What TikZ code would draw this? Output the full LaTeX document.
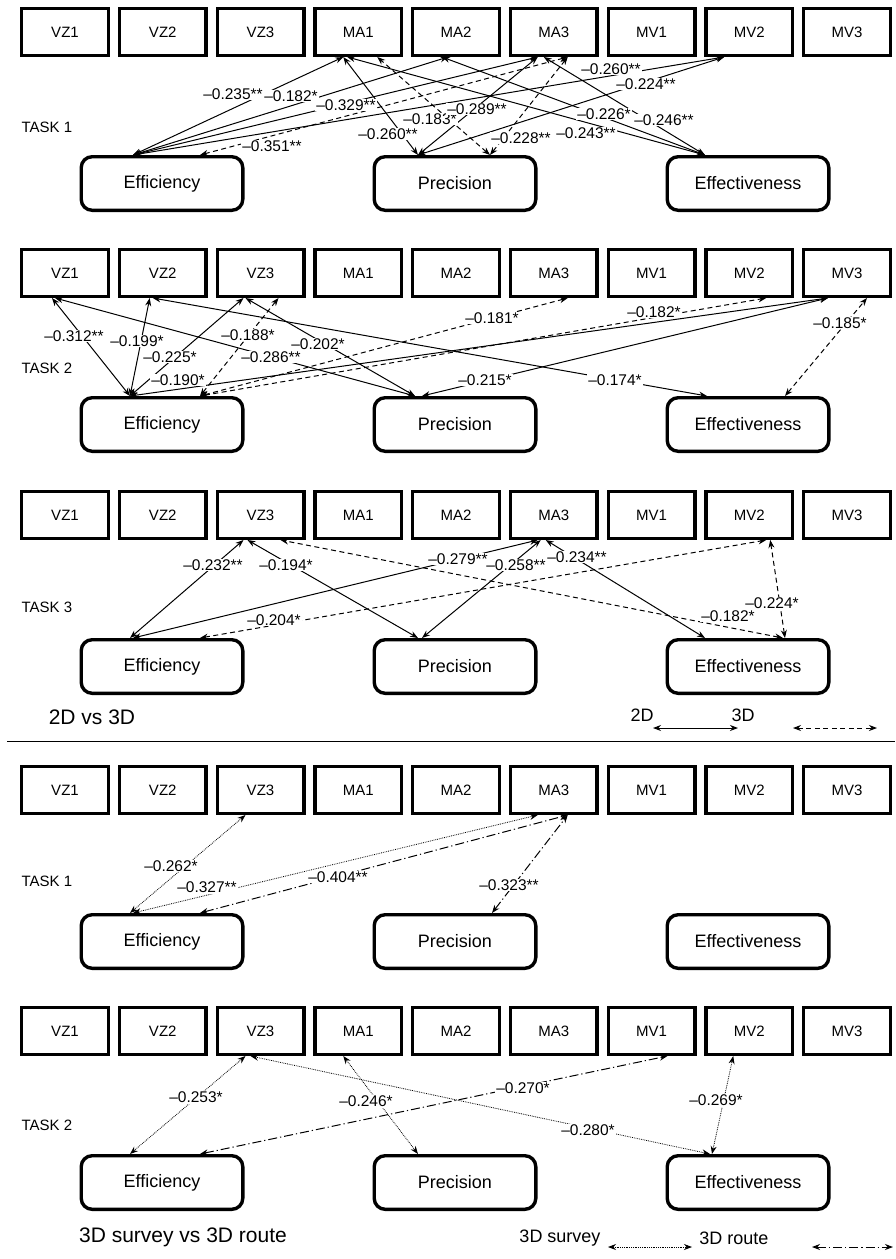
\documentclass[tikz,border=0pt]{standalone}
\usepackage{fontspec}
\setmainfont{Liberation Sans}
\usetikzlibrary{arrows.meta}

\begin{document}
\begin{tikzpicture}[x=1pt,y=-1pt,
  every node/.style={font=\fontsize{15}{18}\selectfont},
  var/.style={draw,line width=3.4pt,minimum width=86.6pt,minimum height=46.6pt,inner sep=0pt},
  outc/.style={draw,line width=3.4pt,rounded corners=11pt,minimum width=161.6pt,minimum height=53.6pt,font=\fontsize{18}{22}\selectfont},
  cor/.style={{Stealth[length=8pt,width=6pt]}-{Stealth[length=8pt,width=6pt]},line width=1pt},
  cord/.style={cor,dash pattern=on 5pt off 3.5pt},
  corp/.style={cor,line width=0.8pt,dash pattern=on 0.8pt off 1pt},
  corc/.style={cor,dash pattern=on 9pt off 3pt on 1.2pt off 3pt},
  coef/.style={fill=white,inner sep=1pt,font=\fontsize{15.5}{18}\selectfont},
  task/.style={anchor=west},
  ttl/.style={font=\fontsize{21}{25}\selectfont},
  key/.style={font=\fontsize{18}{22}\selectfont}]
\useasboundingbox (0,0) rectangle (895,1259);
% boxes of the five panels
\foreach \p/\t in {a/7,b/248,c/490,d/765,e/1006} {
  \foreach \n [count=\i] in {VZ1,VZ2,VZ3,MA1,MA2,MA3,MV1,MV2,MV3}
    \node[var] (\p\n) at ({65+97.75*(\i-1)},\t+25) {\n};
  \foreach \n/\x/\txt in {Eff/162/Efficiency,Prec/455/Precision,Effv/748/Effectiveness}
    \node[outc] (\p\n) at (\x,\t+176.5) {\txt};
}
% task names
\node[task] (ta) at (18,127) {TASK 1};
\node[task] (tb) at (18,368) {TASK 2};
\node[task] (tc) at (18,607) {TASK 3};
\node[task] (td) at (18,881) {TASK 1};
\node[task] (te) at (18,1125) {TASK 2};
% 2D vs 3D, task 1
\foreach \f/\u/\g/\v in {Eff/-29/MA1/-15,Eff/-29/MA2/-8,Eff/-29/MA3/-16,Eff/-29/MV2/-25,
    Prec/-37/MA1/-15,Prec/-37/MA3/-16,Prec/-37/MV2/-25,
    Effv/-43/MA1/-11,Effv/-43/MA2/-14,Effv/-43/MA3/-10}
  \draw[cor] ([xshift=\u*1pt]a\f.north) -- ([xshift=\v*1pt]a\g.south);
\foreach \f/\u/\g/\v in {Eff/38/MA3/14,Prec/35/MA1/19,Prec/35/MA3/14}
  \draw[cord] ([xshift=\u*1pt]a\f.north) -- ([xshift=\v*1pt]a\g.south);
% 2D vs 3D, task 2
\foreach \f/\u/\g/\v in {Eff/-32/VZ1/-13,Eff/-32/VZ2/-13,Eff/-32/VZ3/-17,Prec/-40/VZ3/-15,
    Prec/-40/VZ1/-10,Effv/-41/VZ2/-10,Eff/-32/MV3/-19,Prec/-33/MV3/-19}
  \draw[cor] ([xshift=\u*1pt]b\f.north) -- ([xshift=\v*1pt]b\g.south);
\foreach \f/\u/\g/\v in {Eff/38/VZ3/18,Eff/38/MA3/14,Eff/38/MV2/17,Effv/37/MV3/20}
  \draw[cord] ([xshift=\u*1pt]b\f.north) -- ([xshift=\v*1pt]b\g.south);
% 2D vs 3D, task 3
\foreach \f/\u/\g/\v in {Eff/-32/VZ3/-17,Prec/-37/VZ3/-13,Eff/-29/MA3/-16,Prec/-33/MA3/-13,Effv/-43/MA3/-8}
  \draw[cor] ([xshift=\u*1pt]c\f.north) -- ([xshift=\v*1pt]c\g.south);
\foreach \f/\u/\g/\v in {Effv/35/VZ3/20,Eff/38/MV2/17,Effv/37/MV2/21}
  \draw[cord] ([xshift=\u*1pt]c\f.north) -- ([xshift=\v*1pt]c\g.south);
% 3D survey vs 3D route, task 1
\foreach \f/\u/\g/\v in {Eff/-32/VZ3/-15,Eff/-29/MA3/-16}
  \draw[corp] ([xshift=\u*1pt]d\f.north) -- ([xshift=\v*1pt]d\g.south);
\foreach \f/\u/\g/\v in {Eff/38/MA3/14,Prec/37/MA3/14}
  \draw[corc] ([xshift=\u*1pt]d\f.north) -- ([xshift=\v*1pt]d\g.south);
% 3D survey vs 3D route, task 2
\foreach \f/\u/\g/\v in {Eff/-32/VZ3/-15,Prec/-37/MA1/-15,Effv/-38/VZ3/-10,Effv/-36/MV2/-16}
  \draw[corp] ([xshift=\u*1pt]e\f.north) -- ([xshift=\v*1pt]e\g.south);
\draw[corc] ([xshift=38pt]eEff.north) -- ([xshift=16pt]eMV1.south);
% coefficients
\foreach \x/\y/\c [count=\k] in {233/94/–0.235**,291/96/–0.182*,346/105/–0.329**,272/146/–0.351**,
    388/134/–0.260**,430/119/–0.183*,477/109/–0.289**,521/138/–0.228**,586/133/–0.243**,
    604/114/–0.226*,664/120/–0.246**,611/69/–0.260**,646/84/–0.224**}
  \node[coef] (aL\k) at (\x,\y) {\c};
\foreach \x/\y/\c [count=\k] in {74/336/–0.312**,137/341/–0.199*,170/357/–0.225*,248/335/–0.188*,
    318/344/–0.202*,271/357/–0.286**,178/380/–0.190*,492/318/–0.181*,654/312/–0.182*,
    840/323/–0.185*,485/380/–0.215*,615/380/–0.174*}
  \node[coef] (bL\k) at (\x,\y) {\c};
\foreach \x/\y/\c [count=\k] in {213/565/–0.232**,286/565/–0.194*,458/559/–0.279**,516/565/–0.258**,
    577/557/–0.234**,274/620/–0.204*,728/616/–0.182*,772/603/–0.224*}
  \node[coef] (cL\k) at (\x,\y) {\c};
\foreach \x/\y/\c [count=\k] in {171/866/–0.262*,207/887/–0.327**,338/877/–0.404**,509/885/–0.323**}
  \node[coef] (dL\k) at (\x,\y) {\c};
\foreach \x/\y/\c [count=\k] in {196/1097/–0.253*,366/1101/–0.246*,523/1088/–0.270*,588/1130/–0.280*,716/1100/–0.269*}
  \node[coef] (eL\k) at (\x,\y) {\c};
% titles, keys and separator
\node[ttl] (tt1) at (92,717) {2D vs 3D};
\node[ttl] (tt2) at (183,1237) {3D survey vs 3D route};
\draw[line width=1pt] (7,741) -- (895,741);
\node[key] (k2D) at (642,715) {2D};
\node[key] (k3D) at (743,715) {3D};
\coordinate (k1a) at (653,728); \coordinate (k1b) at (738,728);
\coordinate (k1c) at (793,728); \coordinate (k1d) at (877,728);
\draw[cor] (k1a) -- (k1b);
\draw[cord] (k1c) -- (k1d);
\node[key] (kS) at (560,1238) {3D survey};
\node[key] (kR) at (734,1238) {3D route};
\coordinate (k2a) at (608,1247); \coordinate (k2b) at (692,1247);
\coordinate (k2c) at (812,1247); \coordinate (k2d) at (893,1247);
\draw[corp] (k2a) -- (k2b);
\draw[corc] (k2c) -- (k2d);
\end{tikzpicture}
\end{document}
